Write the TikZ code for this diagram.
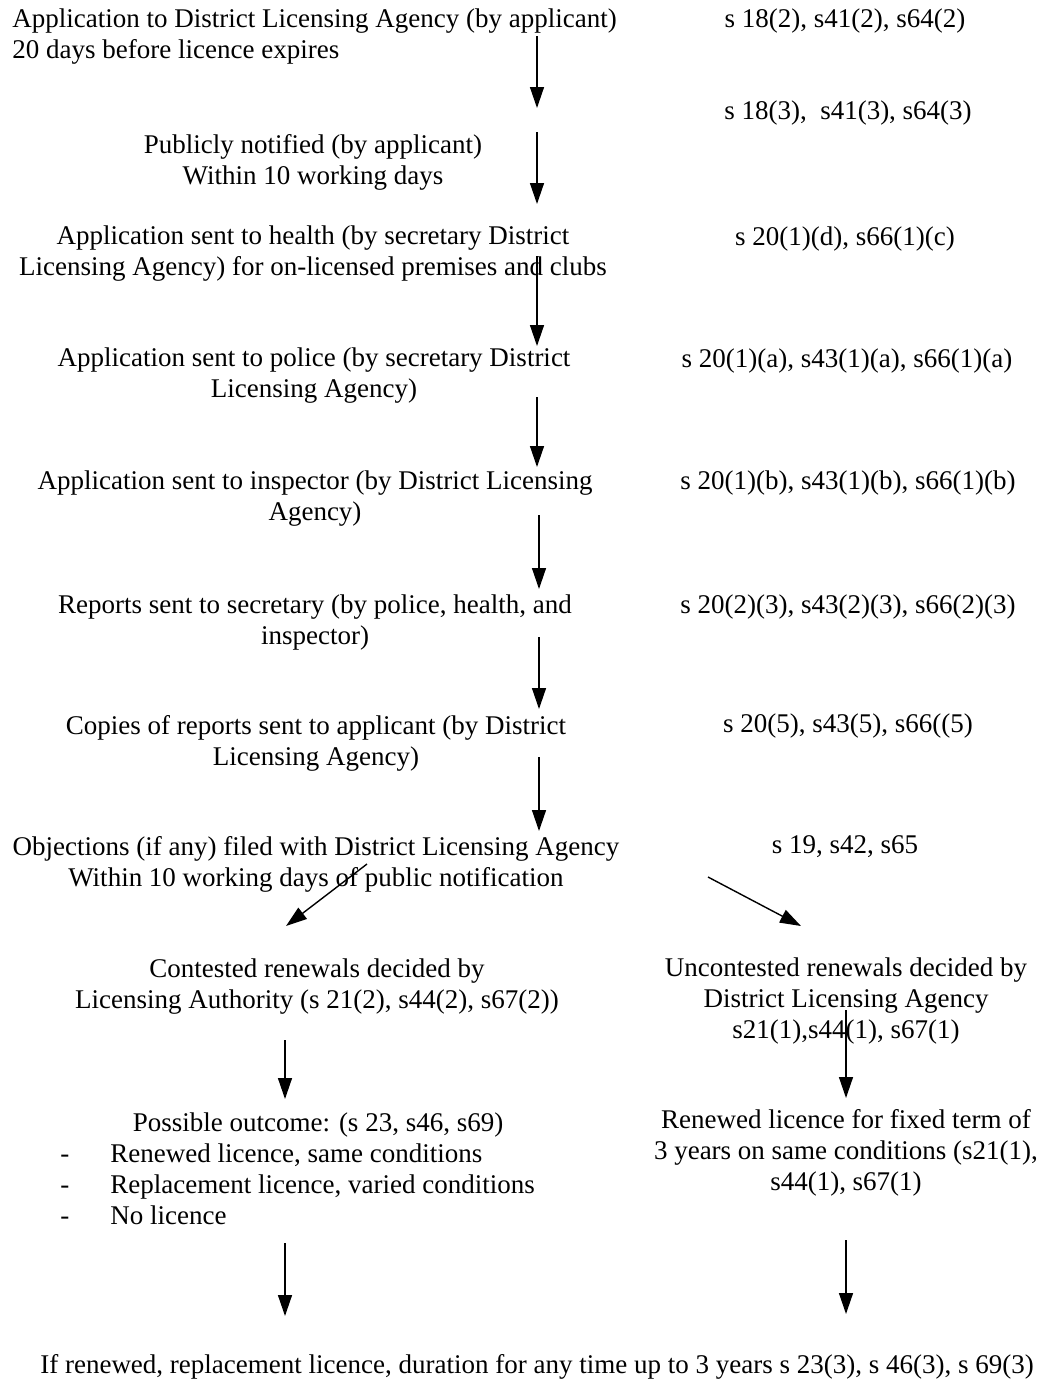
\documentclass[tikz,border=0pt]{standalone}
\usepackage{fontspec}
\setmainfont{Liberation Serif}
\usetikzlibrary{arrows.meta}
\begin{document}
\begin{tikzpicture}[x=0.5pt,y=-0.5pt,
  txt/.style={inner sep=0pt, align=center, font=\fontsize{13.5}{15.5}\selectfont},
  ltxt/.style={inner sep=0pt, align=left, font=\fontsize{13.5}{15.5}\selectfont},
  flow/.style={line width=0.7pt, -{Triangle[width=7pt,length=10.5pt]}}]
\useasboundingbox[fill=white] (0,0) rectangle (1042,1382);
% left column
\node[ltxt, anchor=west] (n1) at (12,37) {Application to District Licensing Agency (by applicant)\\20 days before licence expires};
\node[txt] (n2) at (313,162) {Publicly notified (by applicant)\\Within 10 working days};
\node[txt] (n3) at (313,254) {Application sent to health (by secretary District\\Licensing Agency) for on-licensed premises and clubs};
\node[txt] (n4) at (314,376) {Application sent to police (by secretary District\\Licensing Agency)};
\node[txt] (n5) at (315,499) {Application sent to inspector (by District Licensing\\Agency)};
\node[txt] (n6) at (315,622) {Reports sent to secretary (by police, health, and\\inspector)};
\node[txt] (n7) at (316,743) {Copies of reports sent to applicant (by District\\Licensing Agency)};
\node[txt] (n8) at (316,864) {Objections (if any) filed with District Licensing Agency\\Within 10 working days of public notification};
\node[txt] (n9l) at (317,987) {Contested renewals decided by\\Licensing Authority (s 21(2), s44(2), s67(2))};
\node[txt] (n9r) at (846,1001) {Uncontested renewals decided by\\District Licensing Agency\\s21(1),s44(1), s67(1)};
\node[txt] (n10l) at (318,1125) {Possible outcome: (s 23, s46, s69)};
\node[ltxt, anchor=north west] (n10list) at (60,1143) {\makebox[25pt][l]{-}Renewed licence, same conditions\\\makebox[25pt][l]{-}Replacement licence, varied conditions\\\makebox[25pt][l]{-}No licence};
\node[txt] (n10r) at (846,1153) {Renewed licence for fixed term of\\3 years on same conditions (s21(1),\\s44(1), s67(1)};
\node[txt] (n11) at (537,1367) {If renewed, replacement licence, duration for any time up to 3 years s 23(3), s 46(3), s 69(3)};
% right column references
\node[txt] (r1) at (845,21) {s 18(2), s41(2), s64(2)};
\node[txt] (r2) at (848,113) {s 18(3),\ \ s41(3), s64(3)};
\node[txt] (r3) at (845,239) {s 20(1)(d), s66(1)(c)};
\node[txt] (r4) at (847,361) {s 20(1)(a), s43(1)(a), s66(1)(a)};
\node[txt] (r5) at (848,483) {s 20(1)(b), s43(1)(b), s66(1)(b)};
\node[txt] (r6) at (848,607) {s 20(2)(3), s43(2)(3), s66(2)(3)};
\node[txt] (r7) at (848,726) {s 20(5), s43(5), s66((5)};
\node[txt] (r8) at (845,847) {s 19, s42, s65};
% arrow endpoints
\coordinate (a1s) at (537,36);  \coordinate (a1e) at (537,108);
\coordinate (a2s) at (537,132); \coordinate (a2e) at (537,204);
\coordinate (a3s) at (537,256); \coordinate (a3e) at (537,346);
\coordinate (a4s) at (537,397); \coordinate (a4e) at (537,467);
\coordinate (a5s) at (539,515); \coordinate (a5e) at (539,589);
\coordinate (a6s) at (539,637); \coordinate (a6e) at (539,709);
\coordinate (a7s) at (539,757); \coordinate (a7e) at (539,831);
\coordinate (a8ls) at (367,864); \coordinate (a8le) at (286,926);
\coordinate (a8rs) at (708,877); \coordinate (a8re) at (801,926);
\coordinate (a9ls) at (285,1040); \coordinate (a9le) at (285,1099);
\coordinate (a9rs) at (846,1010); \coordinate (a9re) at (846,1098);
\coordinate (a10ls) at (285,1243); \coordinate (a10le) at (285,1316);
\coordinate (a10rs) at (846,1240); \coordinate (a10re) at (846,1314);
\draw[flow] (a1s) -- (a1e);
\draw[flow] (a2s) -- (a2e);
\draw[flow] (a3s) -- (a3e);
\draw[flow] (a4s) -- (a4e);
\draw[flow] (a5s) -- (a5e);
\draw[flow] (a6s) -- (a6e);
\draw[flow] (a7s) -- (a7e);
\draw[flow] (a8ls) -- (a8le);
\draw[flow] (a8rs) -- (a8re);
\draw[flow] (a9ls) -- (a9le);
\draw[flow] (a9rs) -- (a9re);
\draw[flow] (a10ls) -- (a10le);
\draw[flow] (a10rs) -- (a10re);
\end{tikzpicture}
\end{document}
